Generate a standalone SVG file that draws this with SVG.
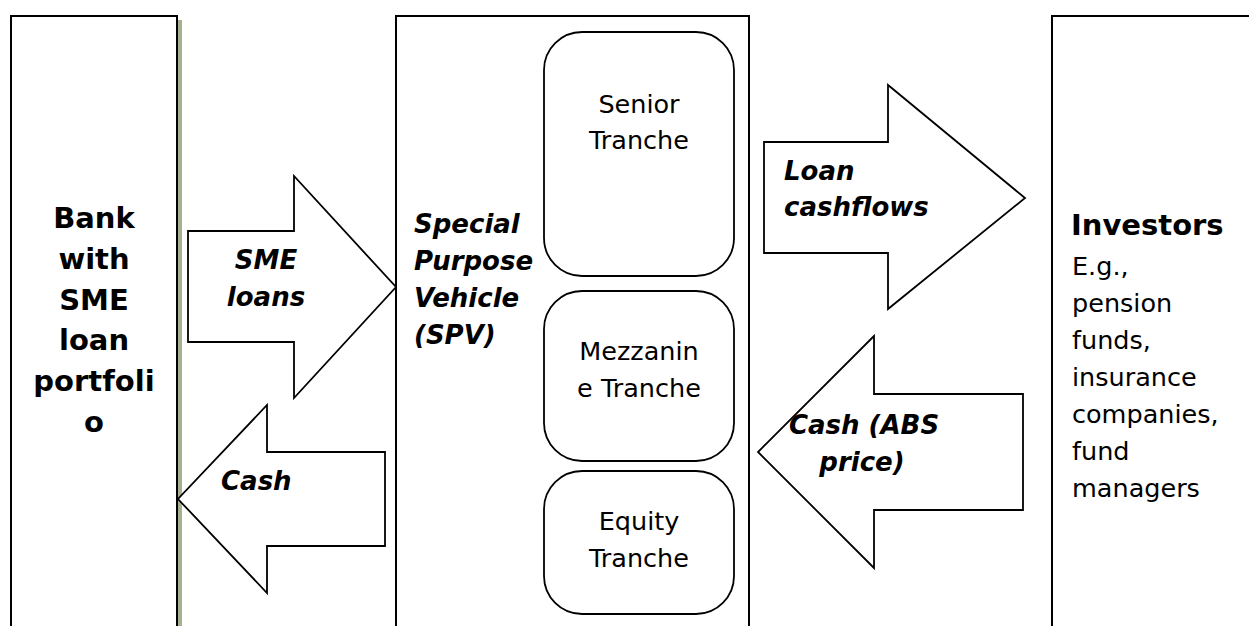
<svg xmlns="http://www.w3.org/2000/svg" width="1249" height="626" viewBox="0 0 1249 626">
<style>
.box{fill:#fff;stroke:#000;stroke-width:2}
.tr{fill:#fff;stroke:#000;stroke-width:1.8}
.arr{fill:#fff;stroke:#000;stroke-width:1.8;stroke-linejoin:miter}
text{font-family:"DejaVu Sans",Verdana,sans-serif;fill:#000}
.b{font-weight:bold;font-size:29px}
.bi{font-weight:bold;font-style:italic;font-size:26px}
.r{font-size:25.5px}
</style>
<rect width="1249" height="626" fill="#fff"/>
<g id="bank">
<rect x="178" y="20" width="4" height="620" fill="#a7b091"/>
<rect class="box" x="11" y="16" width="166" height="630"/>
<text class="b" text-anchor="middle"><tspan x="94" y="228">Bank</tspan><tspan x="94" y="269">with</tspan><tspan x="94" y="310">SME</tspan><tspan x="94" y="350">loan</tspan><tspan x="94" y="391">portfoli</tspan><tspan x="94" y="432">o</tspan></text>
</g>
<g id="spv">
<rect class="box" x="396" y="16" width="353" height="630"/>
<text class="bi"><tspan x="414" y="233">Special</tspan><tspan x="414" y="270">Purpose</tspan><tspan x="414" y="307">Vehicle</tspan><tspan x="414" y="344">(SPV)</tspan></text>
</g>
<g id="senior">
<rect class="tr" x="544" y="32" width="190" height="244" rx="38"/>
<text class="r" text-anchor="middle"><tspan x="639" y="113">Senior</tspan><tspan x="639" y="149">Tranche</tspan></text>
</g>
<g id="mezzanine">
<rect class="tr" x="544" y="291" width="190" height="170" rx="38"/>
<text class="r" text-anchor="middle"><tspan x="639" y="360">Mezzanin</tspan><tspan x="639" y="397">e Tranche</tspan></text>
</g>
<g id="equity">
<rect class="tr" x="544" y="471" width="190" height="143" rx="38"/>
<text class="r" text-anchor="middle"><tspan x="639" y="530">Equity</tspan><tspan x="639" y="567">Tranche</tspan></text>
</g>
<g id="investors">
<rect class="box" x="1052" y="16" width="230" height="630"/>
<text class="b" x="1071" y="235">Investors</text>
<text class="r"><tspan x="1072" y="275">E.g.,</tspan><tspan x="1072" y="312">pension</tspan><tspan x="1072" y="349">funds,</tspan><tspan x="1072" y="386">insurance</tspan><tspan x="1072" y="423">companies,</tspan><tspan x="1072" y="460">fund</tspan><tspan x="1072" y="497">managers</tspan></text>
</g>
<g id="connectors">
<g id="sme-loans">
<polygon class="arr" points="188,231 294,231 294,176 396,287 294,398 294,342 188,342"/>
<text class="bi" text-anchor="middle"><tspan x="266" y="269">SME</tspan><tspan x="266" y="306">loans</tspan></text>
</g>
<g id="cash">
<polygon class="arr" points="385,452 267,452 267,405 178,499 267,593 267,546 385,546"/>
<text class="bi" x="221" y="490">Cash</text>
</g>
<g id="loan-cashflows">
<polygon class="arr" points="764,142 888,142 888,85 1025,198 888,309 888,253 764,253"/>
<text class="bi"><tspan x="784" y="180">Loan</tspan><tspan x="784" y="216">cashflows</tspan></text>
</g>
<g id="cash-abs">
<polygon class="arr" points="1023,394 874,394 874,336 758,452 874,568 874,510 1023,510"/>
<text class="bi" text-anchor="middle"><tspan x="864" y="434">Cash (ABS</tspan><tspan x="862" y="471">price)</tspan></text>
</g>
</g>
</svg>
